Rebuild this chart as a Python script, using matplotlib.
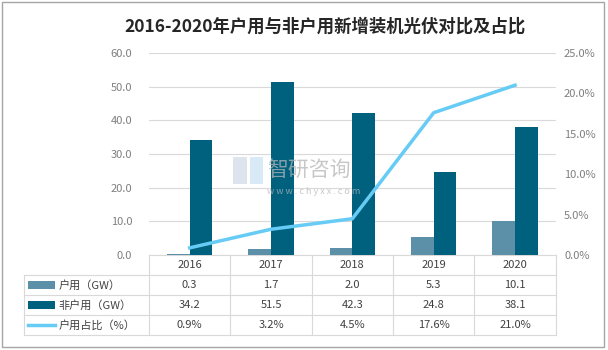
import matplotlib.pyplot as plt
from matplotlib.patches import Rectangle
from matplotlib.lines import Line2D
import numpy as np

plt.rcParams['font.family'] = ['Noto Sans CJK SC', 'DejaVu Sans']

# 数据
years = ['2016', '2017', '2018', '2019', '2020']
huyong = [0.3, 1.7, 2.0, 5.3, 10.1]
fei_huyong = [34.2, 51.5, 42.3, 24.8, 38.1]
zhanbi = [0.9, 3.2, 4.5, 17.6, 21.0]
row_names = ['户用（GW）', '非户用（GW）', '户用占比（%）']

c_light = '#5B90A8'
c_dark = '#00617F'
c_line = '#66CCF5'
c_grid = '#D9D9D9'
c_text = '#404040'
c_tick = '#7F7F7F'

fig = plt.figure(figsize=(6.08, 3.5), dpi=100)
fig.patches.append(Rectangle((0.004, 0.008), 0.99, 0.986, transform=fig.transFigure,
                             fill=False, edgecolor='#A6A6A6', linewidth=1))

ax = fig.add_axes([0.245, 0.271, 0.669, 0.578])
ax2 = ax.twinx()

x = np.arange(len(years))
w = 0.28
ax.bar(x - w / 2, huyong, w, color=c_light, zorder=3)
ax.bar(x + w / 2, fei_huyong, w, color=c_dark, zorder=3)
ax2.plot(x, zhanbi, color=c_line, linewidth=2.5, zorder=4)

ax.set_xlim(-0.5, len(years) - 0.5)
ax.set_ylim(0, 60)
ax2.set_ylim(0, 25)
ax.set_yticks(np.arange(0, 61, 10))
ax.set_yticklabels(['%.1f' % v for v in np.arange(0, 61, 10)])
ax2.set_yticks(np.arange(0, 26, 5))
ax2.set_yticklabels(['%.1f%%' % v for v in np.arange(0, 26, 5)])
ax.yaxis.grid(True, color=c_grid, linewidth=0.8, zorder=0)
ax.set_axisbelow(True)
ax.set_xticks([])
for a in (ax, ax2):
    a.tick_params(length=0, labelsize=8, labelcolor=c_tick, pad=12)
    for s in a.spines.values():
        s.set_visible(False)
ax2.tick_params(pad=6)

# 标题
fig.text(0.535, 0.925, '2016-2020年户用与非户用新增装机光伏对比及占比',
         ha='center', va='center', fontsize=12.5, fontweight='bold', color='#262626')

# 水印（画在柱子上面）
ax2.text(0.29, 0.42, '智研咨询', transform=ax2.transAxes, fontsize=15, color='#B5B5B5',
         alpha=0.75, ha='left', va='center', zorder=5)
ax2.text(0.405, 0.315, 'w w w . c h y x x . c o m', transform=ax2.transAxes, fontsize=6.5,
         color='#B5B5B5', alpha=0.75, ha='center', va='center', zorder=5)
ax2.add_patch(Rectangle((0.206, 0.35), 0.035, 0.135, transform=ax2.transAxes,
                        facecolor='#C9D3E3', alpha=0.6, edgecolor='none', zorder=5))
ax2.add_patch(Rectangle((0.248, 0.35), 0.032, 0.135, transform=ax2.transAxes,
                        facecolor='#BFDDF0', alpha=0.6, edgecolor='none', zorder=5))

# 数据表
tr = ax.get_xaxis_transform()
rh = 0.099
left = -0.5 - 125 / 81.4
right = len(years) - 0.5
ax.add_line(Line2D([-0.5, right], [0, 0], transform=tr, color=c_grid, lw=0.8, clip_on=False))
for i in range(1, 5):
    ax.add_line(Line2D([left, right], [-i * rh, -i * rh], transform=tr, color=c_grid,
                       lw=0.8, clip_on=False))
for xv in np.arange(-0.5, len(years), 1.0):
    ax.add_line(Line2D([xv, xv], [0, -4 * rh], transform=tr, color=c_grid, lw=0.8,
                       clip_on=False))
ax.add_line(Line2D([left, left], [-rh, -4 * rh], transform=tr, color=c_grid, lw=0.8,
                   clip_on=False))

for i, y in enumerate(years):
    ax.text(i, -0.5 * rh, y, transform=tr, ha='center', va='center', fontsize=8, color=c_text)
rows = [['%.1f' % v for v in huyong],
        ['%.1f' % v for v in fei_huyong],
        ['%.1f%%' % v for v in zhanbi]]
for r, vals in enumerate(rows):
    yc = -(r + 1.5) * rh
    for i, v in enumerate(vals):
        ax.text(i, yc, v, transform=tr, ha='center', va='center', fontsize=8, color=c_text)
    ax.text(left + 0.42, yc, row_names[r], transform=tr, ha='left', va='center',
            fontsize=8, color=c_text)
    if r < 2:
        ax.add_patch(Rectangle((left + 0.05, yc - 0.02), 0.33, 0.04, transform=tr,
                               facecolor=[c_light, c_dark][r], clip_on=False))
    else:
        ax.add_line(Line2D([left + 0.05, left + 0.38], [yc, yc], transform=tr,
                           color=c_line, lw=2.5, clip_on=False))

fig.savefig('out.png', dpi=100)
